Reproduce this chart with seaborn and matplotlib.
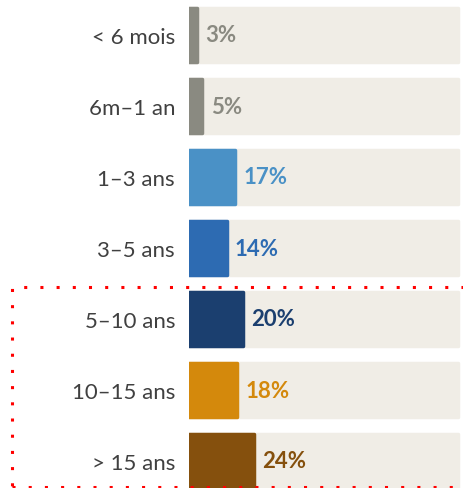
import numpy as np
import pandas as pd
import matplotlib.pyplot as plt
import seaborn as sns
from matplotlib.patches import Rectangle

# données
categories = ["< 6 mois", "6m–1 an", "1–3 ans", "3–5 ans", "5–10 ans", "10–15 ans", "> 15 ans"]
values = [3, 5, 17, 14, 20, 18, 24]
bar_colors = ["#8A8A81", "#8A8A81", "#4A91C6", "#2D6BB2", "#1B3F6F", "#D4890C", "#85500D"]
label_colors = ["#8A8A81", "#8A8A81", "#4A91C6", "#2D6BB2", "#1B3F6F", "#D4890C", "#85500D"]
track_max = 100
track_color = "#F0EDE6"

df = pd.DataFrame({"cat": categories, "val": values, "track": track_max})

sns.set_style("white")
plt.rcParams["font.family"] = ["Lato", "DejaVu Sans"]

fig = plt.figure(figsize=(4.64, 4.89), dpi=100)
ax = fig.add_axes([189 / 464, 0, 275 / 464, 1])

# piste de fond
sns.barplot(data=df, x="track", y="cat", color=track_color, width=0.75,
            saturation=1, linewidth=2.5, ax=ax)
# barres de valeurs
sns.barplot(data=df, x="val", y="cat", hue="cat", palette=bar_colors, width=0.75,
            saturation=1, legend=False, linewidth=2.5, ax=ax)
for patch in ax.patches:
    patch.set_joinstyle("round")
    patch.set_edgecolor(patch.get_facecolor())

for i, (v, c) in enumerate(zip(values, label_colors)):
    ax.annotate(f"{v}%", xy=(v, i), xytext=(6, 0), textcoords="offset points",
                va="center", ha="left", fontsize=16, fontweight="bold", color=c)

ax.set_xlim(0, track_max * 275 / 269)
ax.set_ylim((489 - 36) / 71, -36 / 71)
ax.set_xlabel("")
ax.set_ylabel("")
ax.set_xticks([])
ax.tick_params(axis="y", length=0, pad=10, labelsize=16, labelcolor="#404040")
sns.despine(ax=ax, left=True, bottom=True)

# cadre pointillé rouge
rect = Rectangle((12.3 / 464, 1 / 489), 1.05, (489 - 289.3) / 489,
                 transform=fig.transFigure, fill=False, edgecolor="#FF0000",
                 linewidth=2.2, linestyle=(0, (1, 4.3)), clip_on=False)
fig.patches.append(rect)

fig.savefig("out.png", dpi=100)
